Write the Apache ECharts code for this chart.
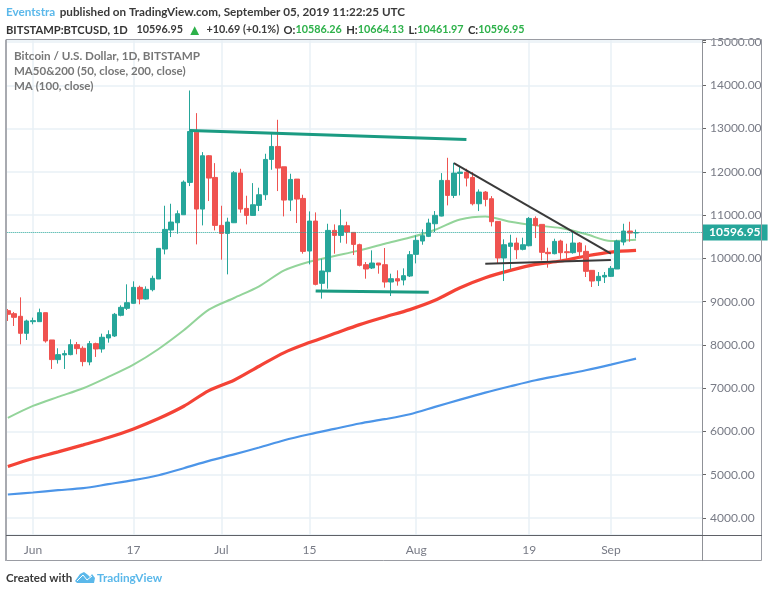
<!DOCTYPE html>
<html>
<head>
<meta charset="utf-8">
<title>BTCUSD</title>
<script src="https://cdn.jsdelivr.net/npm/echarts@6/dist/echarts.min.js"></script>
<style>
html, body { margin: 0; padding: 0; background: #fff; }
#main { width: 768px; height: 594px; }
</style>
</head>
<body>
<div id="main"></div>
<script>
// daily categories, May 28 to Sep 15 (the empty right side of the chart is part of the axis)
var dates = [
  '05-28','05-29','05-30','05-31',
  '06-01','06-02','06-03','06-04','06-05','06-06','06-07','06-08','06-09','06-10','06-11','06-12','06-13','06-14','06-15',
  '06-16','06-17','06-18','06-19','06-20','06-21','06-22','06-23','06-24','06-25','06-26','06-27','06-28','06-29','06-30',
  '07-01','07-02','07-03','07-04','07-05','07-06','07-07','07-08','07-09','07-10','07-11','07-12','07-13','07-14','07-15',
  '07-16','07-17','07-18','07-19','07-20','07-21','07-22','07-23','07-24','07-25','07-26','07-27','07-28','07-29','07-30','07-31',
  '08-01','08-02','08-03','08-04','08-05','08-06','08-07','08-08','08-09','08-10','08-11','08-12','08-13','08-14','08-15',
  '08-16','08-17','08-18','08-19','08-20','08-21','08-22','08-23','08-24','08-25','08-26','08-27','08-28','08-29','08-30','08-31',
  '09-01','09-02','09-03','09-04','09-05','09-06','09-07','09-08','09-09','09-10','09-11','09-12','09-13','09-14','09-15'
];

var tickDates = ['06-01','06-17','07-01','07-15','08-01','08-19','09-01'];
var tickNames = ['Jun','17','Jul','15','Aug','19','Sep'];

var open = [
  8791,8722,8661,8268,
  8537,8537,8745,8114,7660,7768,7775,8006,7922,7606,8029,7906,8160,8206,8684,8845,8961,9330,9061,9276,9523,10215,10654,10823,11008,11755,12917,11139,12371,11870,
  10762,10577,10823,11970,11154,10993,11224,11470,12286,12586,12116,11347,11832,11385,10169,10862,9423,9692,10646,10531,10754,10600,10316,9854,9777,9892,9854,9453,9530,9500,9592,
  10092,10400,10508,10800,10977,11801,11455,11963,11993,11870,11262,11532,11378,10854,10008,10277,10354,10208,10292,10923,10785,10139,10108,10400,10154,10131,10354,10162,9723,9484,9569,
  9584,9754,10377,10631,10586.26
];
var close = [
  8707,8637,8268,8553,
  8561,8745,8091,7660,7775,7799,8006,7914,7614,8029,7906,8176,8237,8707,8868,8976,9330,9061,9284,9538,10231,10669,10839,11031,11762,12932,11139,12371,11855,10762,
  10577,10839,11978,11139,10993,11239,11470,12286,12586,12086,11347,11824,11370,10161,10862,9399,9708,10646,10531,10754,10608,10323,9838,9754,9892,9846,9453,9530,9477,9600,10085,
  10416,10523,10816,10993,11801,11455,11970,11993,11855,11262,11532,11362,10847,10008,10315,10354,10200,10315,10923,10762,10139,10108,10392,10131,10131,10354,10154,9700,9476,9584,9607,
  9769,10400,10631,10585,10596.95
];
var low = [
  8553,8437,8014,8114,
  8476,8537,8052,7444,7568,7444,7760,7783,7506,7529,7722,7821,8052,8183,8661,8807,8953,8938,9045,9238,9523,10092,10492,10569,11008,11670,10323,10762,11324,10646,
  9969,9630,10816,11054,10785,10985,11093,11347,12047,11555,10970,11093,10816,10108,9861,9376,9069,9300,10108,10362,10339,10077,9815,9530,9754,9646,9323,9130,9369,9376,9569,
  9884,10315,10492,10608,10970,11224,11393,11455,11662,11224,11093,11201,10739,9877,9476,9746,9985,10185,10277,10469,9954,9784,10092,9938,9985,10108,9992,9569,9338,9361,9430,
  9569,9754,10300,10385,10461.97
];
var high = [
  8830,8761,9099,8584,
  8630,8838,8745,8114,7922,7875,8129,8068,7968,8091,8052,8260,8337,8738,8914,9400,9469,9369,9353,9600,10231,11216,11262,11108,11801,13879,13356,12455,12386,12201,
  11216,10939,12016,12070,11447,11739,11632,12417,12878,13202,12116,11955,11832,11470,11085,11062,9992,10800,10785,11131,10847,10600,10339,9915,10185,9892,10239,9646,9723,9769,10169,
  10531,10670,10916,11093,11970,12324,12209,12109,12070,11993,11593,11555,11439,10854,10439,10546,10477,10477,10954,10970,10785,10246,10454,10431,10339,10623,10377,10300,9723,9684,9684,
  9823,10431,10800,10846,10664.13
];

// moving averages every 4th day
var maDates = ['05-28','06-01','06-05','06-09','06-13','06-17','06-21','06-25','06-29','07-03','07-07','07-11','07-15','07-19','07-23','07-27','07-31','08-04','08-08','08-12','08-16','08-20','08-24','08-28','09-01','09-05'];
var ma50  = [6313,6590,6798,6998,7260,7544,7906,8337,8814,9084,9354,9723,9923,10054,10185,10339,10480,10662,10900,10970,10846,10762,10700,10562,10400,10431];
var ma100 = [5189,5374,5528,5690,5859,6059,6298,6582,6944,7183,7507,7822,8053,8261,8469,8646,8815,9030,9322,9553,9723,9861,9938,10054,10146,10184];
var ma200 = [4543,4589,4643,4689,4781,4874,4989,5151,5320,5470,5628,5798,5936,6060,6183,6283,6398,6567,6736,6898,7044,7183,7298,7414,7544,7683];

var lastPrice = 10596.95;

// hand drawn trendlines: [date, price] end points
var tealLines = [
  [['06-26',12955],['08-09',12748]],
  [['07-16',9246],['08-03',9215]]
];
var blackLines = [
  [['08-07',12201],['09-01',10108]],
  [['08-12',9877],['09-01',9961]]
];

var FONT = 'Lato, "Open Sans", sans-serif';
var GREY = '#787b86';

function candles() {
  return dates.slice(0, open.length).map(function (d, i) {
    return [open[i], close[i], low[i], high[i]];
  });
}

function maLine(name, values, color, width) {
  return {
    name: name,
    type: 'line',
    data: maDates.map(function (d, i) { return [d, values[i]]; }),
    showSymbol: false,
    smooth: 0.3,
    lineStyle: { color: color, width: width },
    z: 3
  };
}

function drawings(lines, color, width) {
  return lines.map(function (l) {
    return [{ coord: l[0] }, { coord: l[1] }];
  }).map(function (pair) {
    pair[0].lineStyle = { color: color, width: width, type: 'solid' };
    return pair;
  });
}

var myChart = echarts.init(document.getElementById('main'));

myChart.setOption({
  animation: false,
  backgroundColor: '#fff',
  textStyle: { fontFamily: FONT },
  title: [{
    left: 6, top: 3, padding: 0,
    text: '{a|Eventstra} {b|published on TradingView.com, September 05, 2019 11:22:25 UTC}\n' +
      '{c|BITSTAMP:BTCUSD, 1D}  {d|10596.95} {t|▲} {d|+10.69 (+0.1%)} {c|O:}{g|10586.26} {c|H:}{g|10664.13} {c|L:}{g|10461.97} {c|C:}{g|10596.95}',
    textStyle: {
      rich: {
        a: { fontFamily: FONT, fontSize: 11.7, color: '#5bb8ea', lineHeight: 16 },
        b: { fontFamily: FONT, fontSize: 11.7, color: '#3a3a3a', lineHeight: 16 },
        c: { fontFamily: FONT, fontSize: 11.2, color: '#333', fontWeight: 'bold', lineHeight: 16 },
        d: { fontFamily: FONT, fontSize: 10.8, color: '#3a3a3a', lineHeight: 16 },
        g: { fontFamily: FONT, fontSize: 10.8, color: '#2db14a', lineHeight: 16 },
        t: { fontFamily: FONT, fontSize: 15, color: '#2db14a', lineHeight: 16 }
      }
    }
  }, {
    left: 14, top: 48, padding: 0,
    text: '{h|Bitcoin / U.S. Dollar, 1D, BITSTAMP}\n{m|MA50&200 (50, close, 200, close)}\n{m|MA (100, close)}',
    textStyle: {
      rich: {
        h: { fontFamily: FONT, fontSize: 11.7, fontWeight: 'bold', color: '#777', lineHeight: 15.5 },
        m: { fontFamily: FONT, fontSize: 11.5, color: '#777', lineHeight: 15.5 }
      }
    }
  }, {
    left: 6, top: 572, padding: 0,
    text: '{b|Created with}',
    textStyle: { rich: { b: { fontFamily: FONT, fontSize: 11.5, color: '#3a3a3a' } } }
  }, {
    left: 97, top: 572, padding: 0,
    text: '{a|TradingView}',
    textStyle: { rich: { a: { fontFamily: FONT, fontSize: 11.8, color: '#5bb8ea' } } }
  }],
  grid: { left: 4.7, right: 66, top: 40, bottom: 59 },
  xAxis: {
    type: 'category',
    data: dates,
    boundaryGap: true,
    axisLine: { show: false },
    axisTick: {
      alignWithLabel: true,
      length: 3,
      lineStyle: { color: '#555' },
      interval: function (i, v) { return tickDates.indexOf(v) >= 0; }
    },
    axisLabel: {
      color: GREY,
      fontSize: 12,
      margin: 9,
      hideOverlap: false,
      interval: function (i, v) { return tickDates.indexOf(v) >= 0; },
      formatter: function (v) { return tickNames[tickDates.indexOf(v)]; }
    },
    splitLine: {
      show: true,
      alignWithLabel: true,
      lineStyle: { color: '#e8f0f6', width: 1.5 },
      interval: function (i, v) { return tickDates.indexOf(v) >= 0; }
    }
  },
  yAxis: {
    type: 'value',
    position: 'right',
    scale: true,
    min: 3607,
    max: 15046,
    splitNumber: 11,
    axisLine: { show: false },
    axisTick: { show: true, length: 4, lineStyle: { color: '#666' } },
    axisLabel: {
      color: GREY,
      fontSize: 12,
      margin: 8,
      formatter: function (v) { return v % 1000 === 0 ? v.toFixed(2) : ''; }
    },
    splitLine: { show: true, lineStyle: { color: '#e8f0f6', width: 1.5 } }
  },
  series: [
    maLine('MA50', ma50, '#93d49a', 2),
    maLine('MA100', ma100, '#f44336', 3.2),
    maLine('MA200', ma200, '#4c95e8', 2.2),
    {
      name: 'BTCUSD',
      type: 'candlestick',
      data: candles(),
      barWidth: 5,
      z: 4,
      itemStyle: {
        color: '#26a69a',
        color0: '#ef5350',
        borderColor: '#26a69a',
        borderColor0: '#ef5350',
        borderWidth: 1
      },
      markLine: {
        silent: true,
        symbol: 'none',
        animation: false,
        lineStyle: { color: '#26a69a', type: 'dotted', width: 1 },
        label: {
          show: true,
          position: 'end',
          distance: 0,
          formatter: function () { return lastPrice.toFixed(2); },
          backgroundColor: '#26a69a',
          color: '#fff',
          fontWeight: 'bold',
          fontSize: 12,
          fontFamily: FONT,
          padding: [2, 7, 2, 7]
        },
        data: [{ yAxis: lastPrice }]
      }
    },
    {
      name: 'drawings',
      type: 'line',
      data: [],
      z: 5,
      markLine: {
        silent: true,
        symbol: 'none',
        animation: false,
        label: { show: false },
        data: drawings(tealLines, '#1b9b82', 3).concat(drawings(blackLines, '#3a3a3a', 2))
      }
    }
  ],
  graphic: [
    // frame of the TradingView widget
    { type: 'rect', z: 100, shape: { x: 0, y: 36, width: 5, height: 530 }, style: { fill: '#fff' } },
    { type: 'rect', z: 101, shape: { x: 6, y: 39.5, width: 755.5, height: 521 }, style: { fill: 'none', stroke: '#9a9ca3', lineWidth: 1 } },
    { type: 'line', z: 101, shape: { x1: 6, y1: 40, x2: 6, y2: 561 }, style: { stroke: '#a8aab0', lineWidth: 2 } },
    { type: 'line', z: 101, shape: { x1: 702.5, y1: 40, x2: 702.5, y2: 561 }, style: { stroke: '#8f9197', lineWidth: 1 } },
    { type: 'line', z: 101, shape: { x1: 6, y1: 535.5, x2: 762, y2: 535.5 }, style: { stroke: '#5f6167', lineWidth: 1 } },
    // TradingView logo
    { type: 'polygon', z: 101, shape: { points: [[75, 581], [80, 574], [84, 572], [88, 575], [90, 577], [92, 574], [95, 578], [94, 583], [77, 583]] }, style: { fill: '#5bb8ea' } },
    { type: 'polyline', z: 102, shape: { points: [[77, 581], [83, 575], [87, 580], [92, 576]] }, style: { stroke: '#fff', fill: 'none', lineWidth: 1 } }
  ]
});
</script>
</body>
</html>
